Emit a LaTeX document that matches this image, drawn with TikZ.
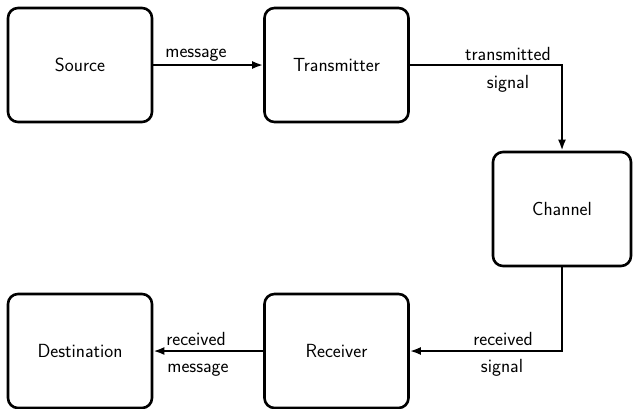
\documentclass[tikz,border=0pt]{standalone}
\usetikzlibrary{arrows.meta}
\begin{document}
\begin{tikzpicture}[x=1pt,y=-1pt,
  blk/.style={draw, line width=2.6pt, rounded corners=10pt, minimum width=144pt, minimum height=114pt, inner sep=0pt, font=\sffamily\fontsize{19}{22}\selectfont},
  conn/.style={line width=2.4pt, -{Latex[length=11pt,width=8pt]}},
  lbl/.style={anchor=base, inner sep=0pt, font=\sffamily\fontsize{19}{22}\selectfont}]
\useasboundingbox (0,0) rectangle (633,408);
\node[blk] (src) at (80,65) {Source};
\node[blk] (tx) at (336.5,65) {Transmitter};
\node[blk, minimum width=138pt] (ch) at (562,209) {Channel};
\node[blk] (rx) at (336.5,351) {Receiver};
\node[blk] (dst) at (80,351) {Destination};
\draw[conn] (src) -- (tx);
\draw[conn] (tx.east) -| (ch.north);
\draw[conn] (ch.south) |- (rx.east);
\draw[conn] (rx) -- (dst);
\node[lbl] (l1) at (196,57) {message};
\node[lbl] (l2) at (508,60) {transmitted};
\node[lbl] (l3) at (508,88) {signal};
\node[lbl] (l4) at (503,345) {received};
\node[lbl] (l5) at (502,372) {signal};
\node[lbl] (l6) at (196,345) {received};
\node[lbl] (l7) at (198,372) {message};
\end{tikzpicture}
\end{document}
